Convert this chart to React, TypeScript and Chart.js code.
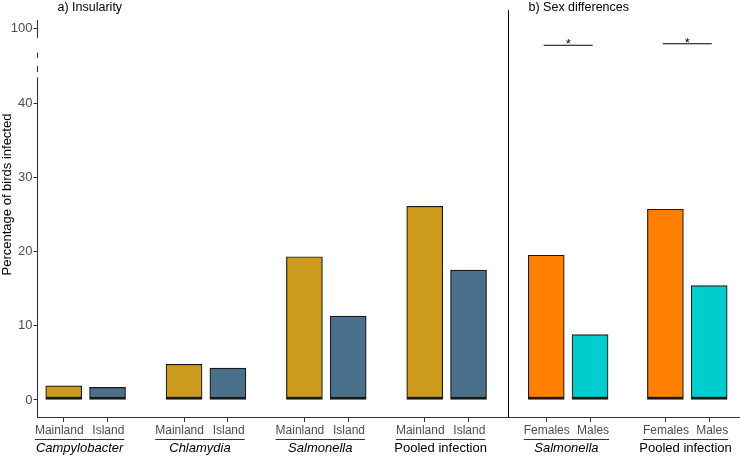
import React, { useEffect, useRef } from "react";
import { Chart, registerables } from "chart.js";

Chart.register(...registerables);

// ---- data ----
const groups = ["Campylobacter", "Chlamydia", "Salmonella", "Pooled infection"];
const groupItalic = [true, true, true, false];
const insularityLabels = ["Mainland", "Island"];
const mainland = [1.9, 4.8, 19.3, 26.1];
const island = [1.7, 4.3, 11.3, 17.5];

const sexGroups = ["Salmonella", "Pooled infection"];
const sexItalic = [true, false];
const sexLabels = ["Females", "Males"];
const females = [19.5, 25.7];
const males = [8.8, 15.4];

const panelTitles = ["a) Insularity", "b) Sex differences"];
const sigLabels = ["*", "*"];

const yTickValues = [0, 10, 20, 30, 40, 50];
const yTickLabels = ["0", "10", "20", "30", "40", "100"];
const yTitle = "Percentage of birds infected";

// ---- style / layout constants ----
const FONT = "'Liberation Sans', Arial, Helvetica, sans-serif";
const COLORS = { mainland: "#CD9B1D", island: "#4A708B", females: "#FF7F00", males: "#00CDCD" };
const Y_MIN = -2.43;
const Y_MAX = 51.2;
const X_MIN = 0.6;
const X_MAX = 6.438;
const DODGE = 0.182;
const SEPARATOR_X = 4.51;
const SIG_Y = [47.8, 48.0];
const AXIS_SEGMENTS: [number, number][] = [
  [Y_MAX, 48.8],
  [46.8, 46.1],
  [45.0, 44.2],
  [43.5, Y_MIN],
];
// small horizontal nudges of the sub-labels (pixels), as in the original figure
const INS_LABEL_DX = [-4.5, 0.8];
const SEX_LABEL_DX = [0.5, 3];

const leftX = (i: number) => i + 1;
const rightX = (k: number) => 5.01 + k * 0.99;

export default function App() {
  const ref = useRef<HTMLCanvasElement>(null);

  useEffect(() => {
    document.body.style.margin = "0";
    const canvas = ref.current;
    if (!canvas) return;

    const xPositions: number[] = [];
    groups.forEach((_, i) => xPositions.push(leftX(i) - DODGE, leftX(i) + DODGE));
    sexGroups.forEach((_, k) => xPositions.push(rightX(k) - DODGE, rightX(k) + DODGE));

    const barStyle = {
      borderColor: "#1a1a1a",
      borderWidth: { top: 1.2, left: 1.2, right: 1.2, bottom: 3 },
      borderSkipped: false as const,
      barThickness: 36,
      grouped: false,
    };

    const deco = {
      id: "deco",
      afterDraw(chart: any) {
        const ctx: CanvasRenderingContext2D = chart.ctx;
        const xs = chart.scales.x;
        const ys = chart.scales.y;
        const area = chart.chartArea;
        ctx.save();

        // broken y axis line
        ctx.strokeStyle = "#333";
        ctx.lineWidth = 1.1;
        AXIS_SEGMENTS.forEach(([a, b]) => {
          ctx.beginPath();
          ctx.moveTo(area.left, ys.getPixelForValue(a));
          ctx.lineTo(area.left, ys.getPixelForValue(b));
          ctx.stroke();
        });

        // y title
        ctx.save();
        ctx.translate(7, 194.5);
        ctx.rotate(-Math.PI / 2);
        ctx.fillStyle = "#000";
        ctx.font = `13px ${FONT}`;
        ctx.textAlign = "center";
        ctx.textBaseline = "middle";
        ctx.fillText(yTitle, 0, 0);
        ctx.restore();

        // panel separator
        const sepX = Math.round(xs.getPixelForValue(SEPARATOR_X)) + 0.5;
        ctx.strokeStyle = "#000";
        ctx.lineWidth = 1;
        ctx.beginPath();
        ctx.moveTo(sepX, area.top - 10);
        ctx.lineTo(sepX, area.bottom);
        ctx.stroke();

        // panel titles
        ctx.fillStyle = "#000";
        ctx.font = `12.5px ${FONT}`;
        ctx.textAlign = "left";
        ctx.textBaseline = "middle";
        ctx.fillText(panelTitles[0], area.left + 20, 7.5);
        ctx.fillText(panelTitles[1], sepX + 20, 7.5);

        // significance bars
        sexGroups.forEach((_, k) => {
          const cx = xs.getPixelForValue(rightX(k));
          const ly = ys.getPixelForValue(SIG_Y[k]);
          ctx.strokeStyle = "#000";
          ctx.lineWidth = 1.1;
          ctx.beginPath();
          ctx.moveTo(cx - 24.5, ly);
          ctx.lineTo(cx + 24.5, ly);
          ctx.stroke();
          ctx.fillStyle = "#000";
          ctx.font = `13px ${FONT}`;
          ctx.textAlign = "center";
          ctx.textBaseline = "alphabetic";
          ctx.fillText(sigLabels[k], cx, ly + 3);
        });

        // sub labels, group underlines + group labels
        const drawGroup = (
          posL: number,
          posR: number,
          labL: string,
          labR: string,
          dx: number[],
          name: string,
          italic: boolean
        ) => {
          ctx.font = `12px ${FONT}`;
          const cL = xs.getPixelForValue(posL) + dx[0];
          const cR = xs.getPixelForValue(posR) + dx[1];
          const wL = ctx.measureText(labL).width;
          const wR = ctx.measureText(labR).width;
          ctx.fillStyle = "#4d4d4d";
          ctx.textAlign = "center";
          ctx.textBaseline = "middle";
          ctx.fillText(labL, cL, area.bottom + 13);
          ctx.fillText(labR, cR, area.bottom + 13);
          const l = cL - wL / 2;
          const r = cR + wR / 2;
          const uy = area.bottom + 21.5;
          ctx.strokeStyle = "#333";
          ctx.lineWidth = 1;
          ctx.beginPath();
          ctx.moveTo(l, uy);
          ctx.lineTo(r, uy);
          ctx.stroke();
          ctx.fillStyle = "#000";
          ctx.font = `${italic ? "italic " : ""}13px ${FONT}`;
          ctx.fillText(name, (l + r) / 2, area.bottom + 30.5);
        };
        groups.forEach((g, i) =>
          drawGroup(leftX(i) - DODGE, leftX(i) + DODGE, insularityLabels[0], insularityLabels[1], INS_LABEL_DX, g, groupItalic[i])
        );
        sexGroups.forEach((g, k) =>
          drawGroup(rightX(k) - DODGE, rightX(k) + DODGE, sexLabels[0], sexLabels[1], SEX_LABEL_DX, g, sexItalic[k])
        );

        ctx.restore();
      },
    };

    const chart = new Chart(canvas, {
      type: "bar",
      data: {
        datasets: [
          {
            label: insularityLabels[0],
            data: mainland.map((v, i) => ({ x: leftX(i) - DODGE, y: v })),
            backgroundColor: COLORS.mainland,
            ...barStyle,
          },
          {
            label: insularityLabels[1],
            data: island.map((v, i) => ({ x: leftX(i) + DODGE, y: v })),
            backgroundColor: COLORS.island,
            ...barStyle,
          },
          {
            label: sexLabels[0],
            data: females.map((v, k) => ({ x: rightX(k) - DODGE, y: v })),
            backgroundColor: COLORS.females,
            ...barStyle,
          },
          {
            label: sexLabels[1],
            data: males.map((v, k) => ({ x: rightX(k) + DODGE, y: v })),
            backgroundColor: COLORS.males,
            ...barStyle,
          },
        ] as any,
      },
      options: {
        animation: false,
        responsive: true,
        maintainAspectRatio: false,
        layout: { padding: { top: 20, left: 0, right: 0, bottom: 0 } },
        plugins: { legend: { display: false }, tooltip: { enabled: false }, title: { display: false } },
        scales: {
          x: {
            type: "linear",
            min: X_MIN,
            max: X_MAX,
            offset: false,
            grid: { display: true, drawOnChartArea: false, drawTicks: true, tickLength: 4, color: "#333", offset: false } as any,
            border: { display: true, color: "#333", width: 1.1 },
            afterBuildTicks: (scale: any) => {
              scale.ticks = xPositions.map((v) => ({ value: v }));
            },
            afterFit: (scale: any) => {
              scale.height = 39;
            },
            ticks: {
              autoSkip: false,
              maxRotation: 0,
              minRotation: 0,
              padding: 2,
              color: "#4d4d4d",
              font: { family: FONT, size: 12 },
              callback: () => "",
            },
          },
          y: {
            type: "linear",
            min: Y_MIN,
            max: Y_MAX,
            grid: { display: true, drawOnChartArea: false, drawTicks: true, tickLength: 4, color: "#333" },
            border: { display: false },
            afterBuildTicks: (scale: any) => {
              scale.ticks = yTickValues.map((v) => ({ value: v }));
            },
            afterFit: (scale: any) => {
              scale.width = 37.5;
            },
            ticks: {
              padding: 1,
              color: "#4d4d4d",
              font: { family: FONT, size: 13 },
              callback: (_v: any, i: number) => yTickLabels[i],
            },
          },
        },
      },
      plugins: [deco],
    });

    return () => chart.destroy();
  }, []);

  return (
    <div style={{ width: 740, height: 457, position: "relative" }}>
      <canvas ref={ref} />
    </div>
  );
}
